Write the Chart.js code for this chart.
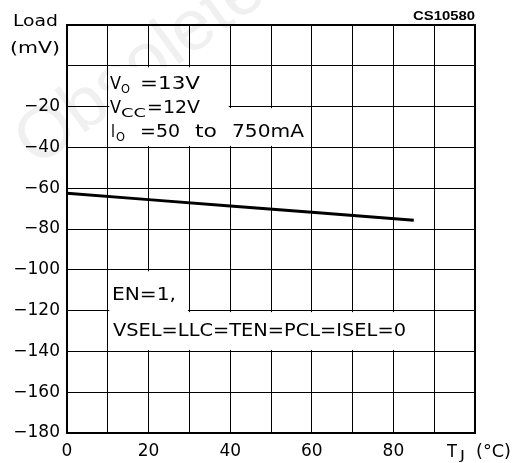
<!DOCTYPE html>
<html><head><meta charset="utf-8">
<script src="https://cdn.jsdelivr.net/npm/chart.js@4/dist/chart.umd.min.js"></script>
<style>html,body{margin:0;padding:0;background:#fff}#w{width:526px;height:463px;position:relative}</style>
</head><body><div id="w"><canvas id="c"></canvas></div>
<script>
// Data
const tempC = [0, 20, 40, 60, 85];
const loadMV = [-62.5, -65.6, -68.7, -71.8, -75.7];
const xLabelValues = [0, 20, 40, 60, 80];
const yLabelValues = [-20, -40, -60, -80, -100, -120, -140, -160, -180];

const FONT = 'DejaVu Sans';

// draw text from x to x+width (horizontally fitted)
function drawFit(ctx, text, x, y, size, width, font) {
  ctx.save();
  ctx.font = (font || (size + 'px "' + FONT + '"'));
  const w = ctx.measureText(text).width;
  ctx.translate(x, y);
  ctx.scale(width / w, 1);
  ctx.fillText(text, 0, 0);
  ctx.restore();
}

const watermark = {
  id: 'watermark',
  beforeDraw(chart) {
    const ctx = chart.ctx;
    ctx.save();
    ctx.fillStyle = '#f0f0f0';
    ctx.font = '72px "Liberation Sans"';
    ctx.textBaseline = 'alphabetic';
    ctx.translate(36, 168);
    ctx.rotate(-36 * Math.PI / 180);
    ctx.fillText('Obsolete Product(s) - Obsolete Product(s)', 0, 0);
    ctx.restore();
  }
};

const boxes = {
  id: 'boxes',
  afterDatasetsDraw(chart) {
    const ctx = chart.ctx, x = chart.scales.x, y = chart.scales.y;
    const px = v => x.getPixelForValue(v), py = v => y.getPixelForValue(v);
    ctx.save();
    ctx.fillStyle = '#fff';
    const rect = (x0, x1, y0, y1) => {
      const a = px(x0) + 1.5, b = px(x1) - 1.5;
      const t = py(y0) + 1.5, btm = py(y1) - 1.5;
      ctx.fillRect(a, t, b - a, btm - t);
    };
    rect(10, 40, 0, -40);
    ctx.fillRect(px(10) + 1.5, py(-20) + 1.5, px(59) - px(10) - 1.5, py(-40) - py(-20) - 3);
    rect(10, 30, -100, -140);
    rect(10, 90, -120, -140);
    const ca = chart.chartArea;
    ctx.strokeStyle = '#000';
    ctx.lineWidth = 2;
    ctx.strokeRect(ca.left, ca.top, ca.right - ca.left, ca.bottom - ca.top);
    ctx.restore();
  },
  afterDraw(chart) {
    const ctx = chart.ctx;
    ctx.save();
    ctx.fillStyle = '#000';
    ctx.textBaseline = 'alphabetic';
    ctx.textAlign = 'left';
    // axis title
    drawFit(ctx, 'Load', 13, 26, 16, 45);
    drawFit(ctx, '(mV)', 10, 53, 16, 50);
    // CS code
    drawFit(ctx, 'CS10580', 413, 20, 12, 62, 'bold 12px "Liberation Sans"');
    // conditions box 1
    drawFit(ctx, 'V', 110, 89, 17, 11);
    drawFit(ctx, 'O', 121, 93, 12, 9);
    drawFit(ctx, '=13V', 140, 89, 17, 60);
    drawFit(ctx, 'V', 110, 113, 17, 11);
    drawFit(ctx, 'CC', 121, 117, 12, 25);
    drawFit(ctx, '=12V', 147, 113, 17, 53);
    drawFit(ctx, 'I', 111, 137, 17, 4);
    drawFit(ctx, 'O', 116, 141, 12, 9);
    drawFit(ctx, '=50', 140, 137, 17, 40);
    drawFit(ctx, 'to', 195, 137, 17, 22);
    drawFit(ctx, '750mA', 232, 137, 17, 72);
    // conditions box 2
    drawFit(ctx, 'EN=1,', 112, 300, 17, 64);
    drawFit(ctx, 'VSEL=LLC=TEN=PCL=ISEL=0', 113, 336, 17, 293);
    // x axis title
    drawFit(ctx, 'T', 447, 457, 17, 10);
    drawFit(ctx, 'J', 460, 459, 12, 5);
    drawFit(ctx, '(°C)', 476, 457, 17, 35);
    ctx.restore();
  }
};

new Chart(document.getElementById('c'), {
  type: 'line',
  data: {
    datasets: [{
      data: tempC.map((t, i) => ({ x: t, y: loadMV[i] })),
      borderColor: '#000',
      borderWidth: 3,
      pointRadius: 0,
      fill: false,
      tension: 0
    }]
  },
  options: {
    responsive: true,
    maintainAspectRatio: false,
    animation: false,
    devicePixelRatio: 1,
    layout: { padding: { top: 25, right: 51, left: 0, bottom: 0 } },
    plugins: { legend: { display: false }, tooltip: { enabled: false }, title: { display: false } },
    scales: {
      x: {
        type: 'linear', min: 0, max: 100,
        afterFit(s) { s.height = 30; },
        grid: { color: '#000', lineWidth: 1, drawTicks: false },
        border: { display: true, color: '#000', width: 2 },
        ticks: {
          stepSize: 10, autoSkip: false, maxRotation: 0, padding: 8,
          color: '#000', font: { family: FONT, size: 17 },
          callback: v => xLabelValues.includes(v) ? String(v) : ''
        }
      },
      y: {
        type: 'linear', min: -180, max: 20,
        afterFit(s) { s.width = 67; },
        grid: { color: '#000', lineWidth: 1, drawTicks: false },
        border: { display: true, color: '#000', width: 2 },
        ticks: {
          stepSize: 20, autoSkip: false, padding: 7,
          color: '#000', font: { family: FONT, size: 17 },
          callback: v => yLabelValues.includes(v) ? '\u2212' + Math.abs(v) : ''
        }
      }
    }
  },
  plugins: [watermark, boxes]
});
</script>
</body></html>
